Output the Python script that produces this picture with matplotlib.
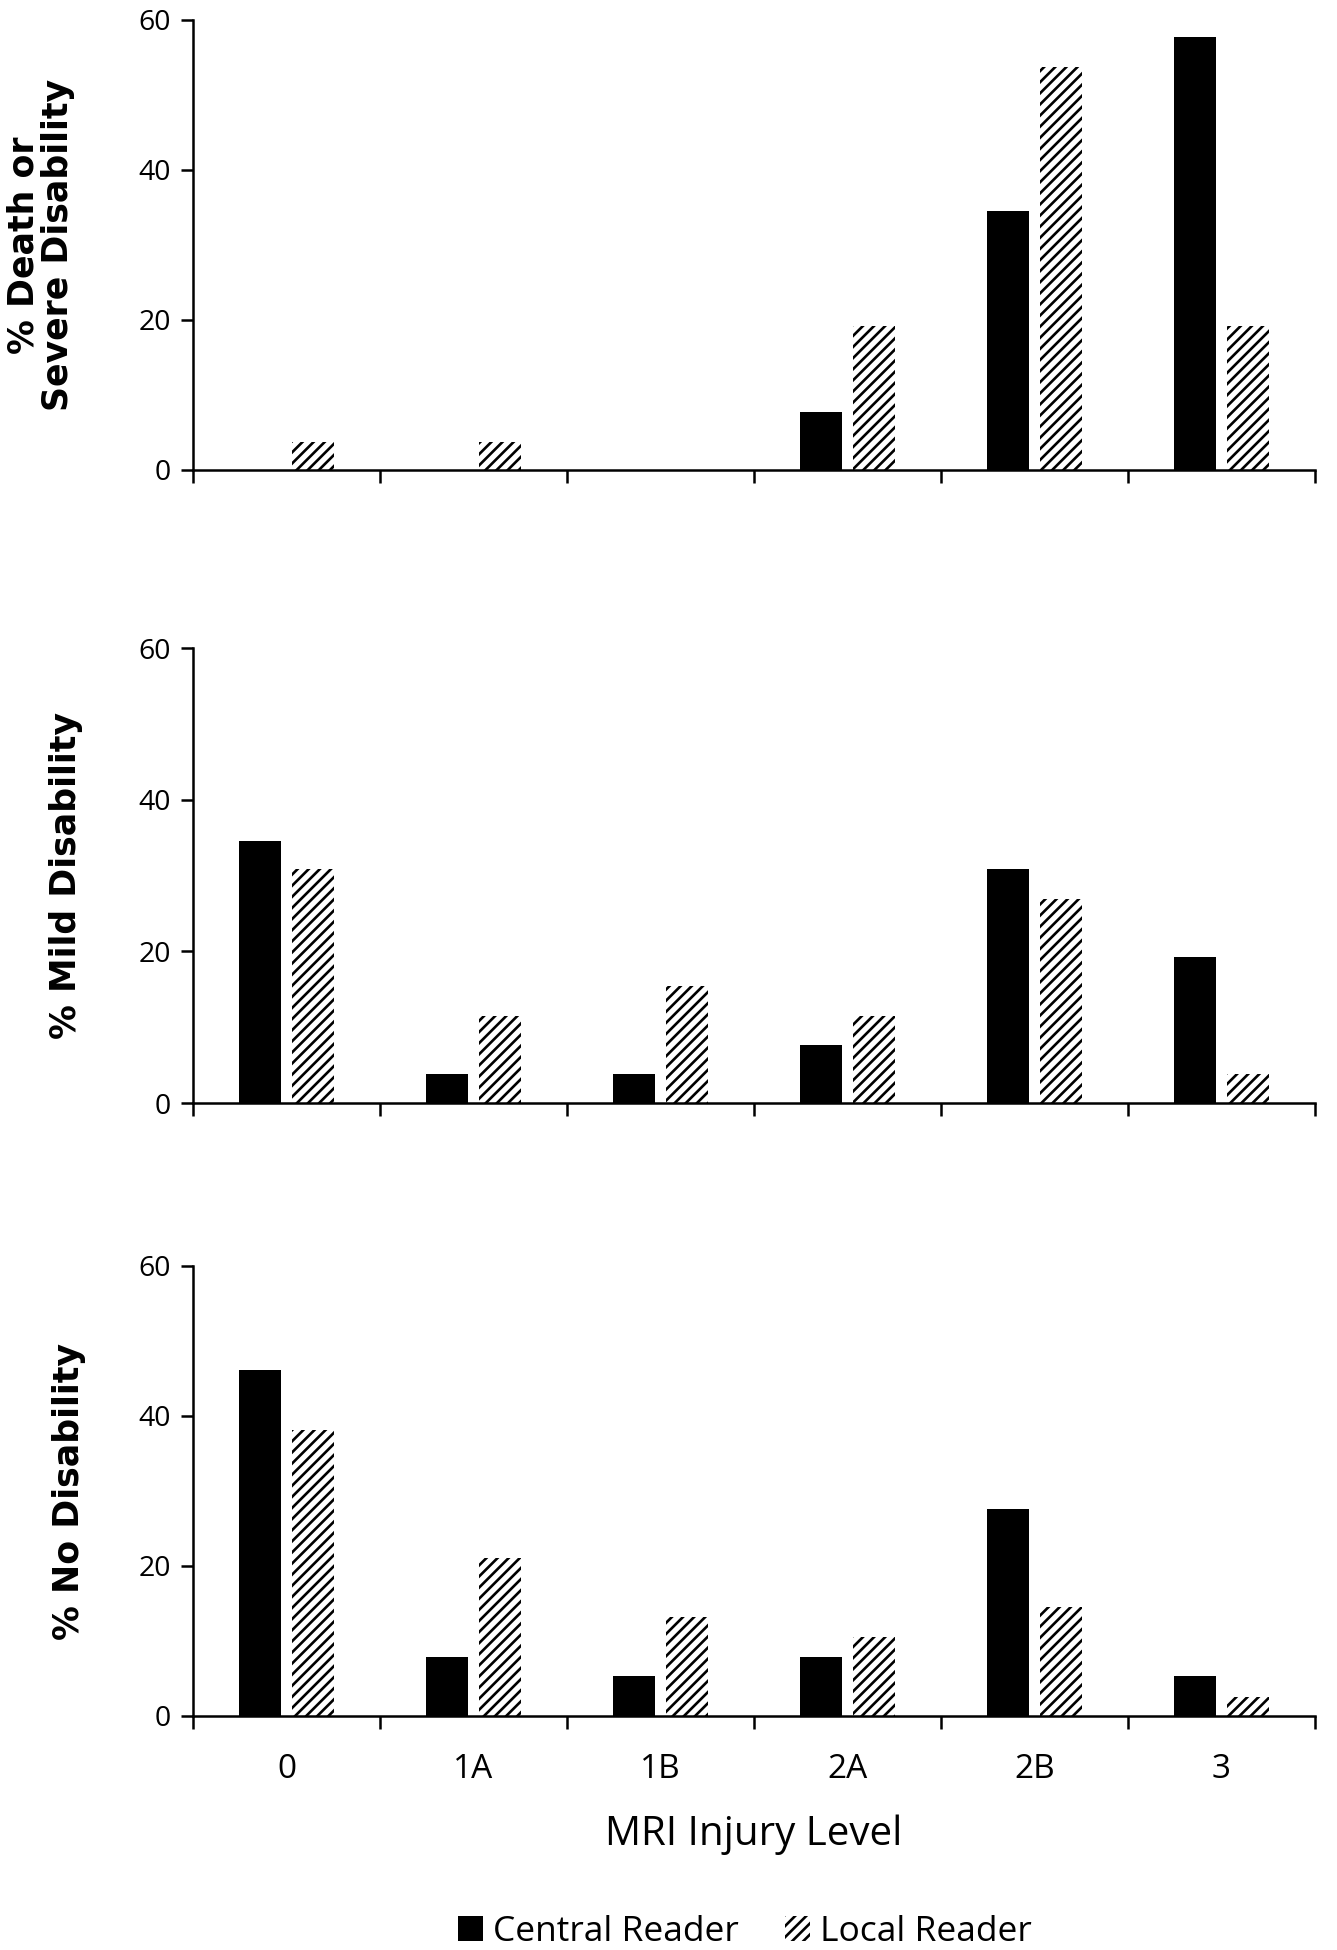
import matplotlib
matplotlib.use("Agg")
import matplotlib.pyplot as plt
import numpy as np

categories = ["0", "1A", "1B", "2A", "2B", "3"]
series_names = ["Central Reader", "Local Reader"]

severe_central = [0.0, 0.0, 0.0, 7.7, 34.6, 57.7]
severe_local = [3.8, 3.8, 0.0, 19.2, 53.8, 19.2]
mild_central = [34.6, 3.8, 3.8, 7.7, 30.8, 19.2]
mild_local = [30.8, 11.5, 15.4, 11.5, 26.9, 3.8]
none_central = [46.1, 7.9, 5.3, 7.9, 27.6, 5.3]
none_local = [38.2, 21.1, 13.2, 10.5, 14.5, 2.6]

ylabels = ["% Death or\nSevere Disability", "% Mild Disability", "% No Disability"]
yticks = [0, 20, 40, 60]
xlabel = "MRI Injury Level"

plt.rcParams["hatch.linewidth"] = 1.9
plt.rcParams["hatch.color"] = "black"

tick_font = "Open Sans"
text_font = "Open Sans"
label_font = "DejaVu Sans"

fig = plt.figure(figsize=(13.37, 19.5), dpi=100)
W, H = 1337, 1950
left, right = 193, 1315
panels = [(20, 470), (648, 1103), (1266, 1716)]
label_x = [41, 66, 69]

data = [(severe_central, severe_local), (mild_central, mild_local), (none_central, none_local)]

x = np.arange(len(categories))
bw = 0.225
off = 0.142
axes = []
for i, ((top, bot), (c, l)) in enumerate(zip(panels, data)):
    ax = fig.add_axes([left / W, 1 - bot / H, (right - left) / W, (bot - top) / H])
    axes.append(ax)
    ax.bar(x - off, c, width=bw, color="black", edgecolor="black", linewidth=0,
           label=series_names[0])
    ax.bar(x + off, l, width=bw, color="white", edgecolor="black", linewidth=0,
           hatch="///", label=series_names[1])
    ax.set_xlim(-0.5, len(categories) - 0.5)
    ax.set_ylim(0, 60)
    ax.set_yticks(yticks)
    for s in ["top", "right"]:
        ax.spines[s].set_visible(False)
    for s in ["left", "bottom"]:
        ax.spines[s].set_linewidth(1.8)
        ax.spines[s].set_color("black")
    ax.tick_params(axis="y", direction="out", length=9, width=1.8, pad=7,
                   labelsize=20.5)
    ax.set_xticks(x)
    ax.set_xticks(np.arange(-0.5, len(categories), 1.0), minor=True)
    ax.tick_params(axis="x", which="major", length=0, pad=27, labelsize=24)
    ax.tick_params(axis="x", which="minor", direction="out", length=9, width=1.8)
    if i == 2:
        ax.set_xticklabels(categories, fontfamily=tick_font)
    else:
        ax.set_xticklabels([])
    for t in ax.get_yticklabels():
        t.set_fontfamily(tick_font)
    ax.text((label_x[i] - left) / (right - left), 0.5, ylabels[i], transform=ax.transAxes,
            rotation=90, ha="center", va="center", fontsize=25, fontweight="bold",
            fontfamily=label_font, linespacing=1.0)

fig.text(0.5 * (left + right) / W, 1 - 1835 / H, xlabel, ha="center", va="center",
         fontsize=29, fontfamily=text_font)

handles, labels = axes[0].get_legend_handles_labels()
leg = fig.legend(handles, labels, loc="center", bbox_to_anchor=(745 / W, 1 - 1932 / H),
                 ncol=2, frameon=False, prop={"family": text_font, "size": 25.5},
                 handlelength=0.7, handleheight=0.7, handletextpad=0.3,
                 columnspacing=1.3, borderaxespad=0)

fig.savefig("out.png", dpi=100, facecolor="white")
